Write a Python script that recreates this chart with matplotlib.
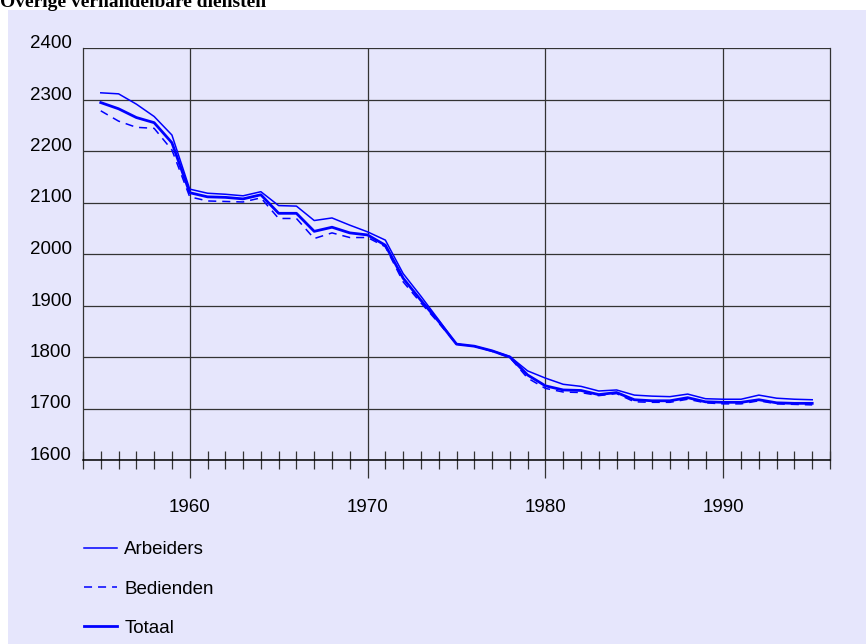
import matplotlib
matplotlib.use("Agg")
import matplotlib.pyplot as plt
from matplotlib.patches import Rectangle
from matplotlib.lines import Line2D
from matplotlib.ticker import MultipleLocator

# jaarlijkse arbeidsduur, overige verhandelbare diensten
years = list(range(1955, 1996))
arbeiders = [2313, 2311, 2291, 2267, 2231, 2126, 2118, 2116, 2113, 2121,
             2094, 2093, 2065, 2070, 2056, 2043, 2027, 1962, 1918, 1872,
             1825, 1821, 1812, 1801, 1773, 1759, 1747, 1743, 1734, 1736,
             1726, 1724, 1723, 1728, 1719, 1718, 1718, 1726, 1720, 1718, 1717]
bedienden = [2278, 2258, 2246, 2244, 2202, 2111, 2103, 2102, 2101, 2109,
             2069, 2069, 2030, 2041, 2032, 2032, 2014, 1946, 1905, 1866,
             1825, 1821, 1811, 1799, 1759, 1739, 1732, 1731, 1725, 1729,
             1713, 1712, 1712, 1718, 1711, 1709, 1709, 1715, 1709, 1708, 1707]
totaal = [2294, 2282, 2265, 2255, 2216, 2119, 2111, 2110, 2107, 2115,
          2079, 2079, 2044, 2052, 2041, 2037, 2017, 1953, 1910, 1869,
          1825, 1821, 1812, 1800, 1765, 1744, 1736, 1735, 1727, 1731,
          1717, 1715, 1715, 1721, 1713, 1712, 1712, 1717, 1711, 1710, 1710]

BLUE = "#0000ff"
BG = "#e6e6fc"
GRID = "#333333"

plt.rcParams["font.family"] = ["Liberation Sans", "DejaVu Sans"]
plt.rcParams["lines.scale_dashes"] = False

fig = plt.figure(figsize=(8.66, 6.44), dpi=100)
fig.patch.set_facecolor("white")
fig.patches.append(Rectangle((8 / 866, 0), 1, 1 - 10 / 644, transform=fig.transFigure,
                             facecolor=BG, edgecolor="none", zorder=-10))
fig.text(0.0, 1 - 7 / 644, "Overige verhandelbare diensten", family="Liberation Serif",
         weight="bold", fontsize=14, va="baseline", ha="left")

ax = fig.add_axes([83 / 866, 1 - 460 / 644, (830 - 83) / 866, (460 - 48) / 644])
ax.set_facecolor(BG)

ax.plot(years, arbeiders, color=BLUE, lw=1.1)
ax.plot(years, bedienden, color=BLUE, lw=1.1, dashes=(5.8, 4.3))
ax.plot(years, totaal, color=BLUE, lw=2.0)

ax.set_xlim(1954, 1996)
ax.set_ylim(1600, 2400)
ax.set_yticks(range(1600, 2401, 100))
ax.set_xticks([1960, 1970, 1980, 1990])
ax.xaxis.set_minor_locator(MultipleLocator(1))
ax.grid(True, which="major", color=GRID, lw=0.9)
ax.set_axisbelow(True)

for side in ["left", "right", "top"]:
    ax.spines[side].set_color(GRID)
    ax.spines[side].set_linewidth(0.9)
ax.spines["top"].set_visible(False)
ax.spines["bottom"].set_color("black")
ax.spines["bottom"].set_linewidth(1.1)

ax.tick_params(axis="y", length=0, pad=8, labelsize=13.5)
for lab in ax.get_yticklabels():
    lab.set_verticalalignment("baseline")
ax.tick_params(axis="x", which="major", direction="out", length=13, width=0.9,
               color=GRID, pad=15, labelsize=13.5)
ax.tick_params(axis="x", which="minor", direction="inout", length=13, width=0.9,
               color=GRID)

handles = [Line2D([], [], color=BLUE, lw=1.1),
           Line2D([], [], color=BLUE, lw=1.1, dashes=(5.8, 4.3)),
           Line2D([], [], color=BLUE, lw=2.0)]
fig.legend(handles, ["Arbeiders", "Bedienden", "Totaal"], loc="upper left",
           bbox_to_anchor=(71 / 866, 1 - 528 / 644), frameon=False, fontsize=13.5,
           handlelength=1.75, handletextpad=0.4, labelspacing=1.18, borderpad=0.2)

fig.savefig("out.png", dpi=100, facecolor=fig.get_facecolor())
